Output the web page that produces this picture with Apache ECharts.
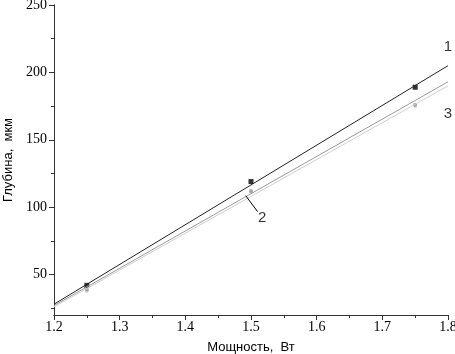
<!DOCTYPE html>
<html><head><meta charset="utf-8">
<script src="https://cdn.jsdelivr.net/npm/echarts@6/dist/echarts.min.js"></script>
<style>html,body{margin:0;padding:0;background:#fff}#c{width:455px;height:354px}</style>
</head><body><div id="c"></div>
<script>
var powerX = [1.25, 1.5, 1.75];
var depth1 = [42, 119, 189];
var depth2 = [39, 112, 176];
var depth3 = [38, 111, 175];
var fitX = [1.2, 1.8];
var fit1 = [28, 205];
var fit2 = [27, 193];
var fit3 = [26, 190];
var xMajor = [1.2, 1.3, 1.4, 1.5, 1.6, 1.7, 1.8];
var xMinor = [1.25, 1.35, 1.45, 1.55, 1.65, 1.75];
var yMajor = [50, 100, 150, 200, 250];
var yMinor = [25, 75, 125, 175, 225];
var labelPts = [["1", 1.8, 219], ["2", 1.517, 92], ["3", 1.8, 169]];
var leaderX = [1.492, 1.510];
var leaderY = [108.5, 96.7];

function pairs(xs, ys){ return xs.map(function(x,i){ return [x, ys[i]]; }); }

var chart = echarts.init(document.getElementById('c'));
var serif = 'Liberation Serif';
var yCommon = {type:'value', min:20, max:250, position:'left',
  splitLine:{show:false}, axisLine:{show:true, lineStyle:{color:'#333', width:1}}};
var xCommon = {type:'value', min:1.2, max:1.8, position:'bottom',
  splitLine:{show:false}, axisLine:{show:true, onZero:false, lineStyle:{color:'#333', width:1}}};
chart.setOption({
  animation:false,
  grid:{left:54, right:7, top:5, bottom:39, containLabel:false, outerBoundsMode:'none'},
  xAxis:[
    Object.assign({}, xCommon, {
      name:'Мощность,  Вт', nameLocation:'middle', nameGap:26,
      nameTextStyle:{fontFamily:'Liberation Sans', fontSize:13, color:'#000'},
      axisTick:{show:true, length:5, lineStyle:{color:'#333'}, customValues:xMajor},
      axisLabel:{fontFamily:serif, fontSize:14, color:'#000', margin:5, customValues:xMajor,
        showMinLabel:true, showMaxLabel:true,
        formatter:function(v){ return (+v).toFixed(1); }}
    }),
    Object.assign({}, xCommon, {
      axisTick:{show:true, length:3, lineStyle:{color:'#333'}, customValues:xMinor},
      axisLabel:{show:false}
    })
  ],
  yAxis:[
    Object.assign({}, yCommon, {
      name:'Глубина,  мкм', nameLocation:'middle', nameGap:38, nameRotate:90,
      nameTextStyle:{fontFamily:'Liberation Sans', fontSize:13, color:'#000'},
      axisTick:{show:true, length:5, lineStyle:{color:'#333'}, customValues:yMajor},
      axisLabel:{fontFamily:serif, fontSize:14, color:'#000', margin:7, customValues:yMajor}
    }),
    Object.assign({}, yCommon, {
      axisTick:{show:true, length:3, lineStyle:{color:'#333'}, customValues:yMinor},
      axisLabel:{show:false}
    })
  ],
  series:[
    {type:'line', data:pairs(fitX, fit3), symbol:'none', lineStyle:{color:'#cfcfcf', width:1}},
    {type:'line', data:pairs(fitX, fit2), symbol:'none', lineStyle:{color:'#9a9a9a', width:1}},
    {type:'line', data:pairs(fitX, fit1), symbol:'none', lineStyle:{color:'#222', width:1}},
    {type:'scatter', data:pairs(powerX, depth3), symbol:'circle', symbolSize:4, itemStyle:{color:'#c8c8c8'}},
    {type:'scatter', data:pairs(powerX, depth2), symbol:'circle', symbolSize:4, itemStyle:{color:'#999'}},
    {type:'scatter', data:pairs(powerX, depth1), symbol:'rect', symbolSize:5, itemStyle:{color:'#000'}},
    {type:'line', data:pairs(leaderX, leaderY), symbol:'none', lineStyle:{color:'#000', width:1}},
    {type:'scatter', clip:false, data:labelPts.map(function(p){ return {value:[p[1], p[2]], name:p[0]}; }),
      symbolSize:0, label:{show:true, position:'inside', formatter:function(p){ return p.name; },
      fontFamily:'Liberation Sans', fontSize:15, color:'#000'}}
  ]
});
</script></body></html>
